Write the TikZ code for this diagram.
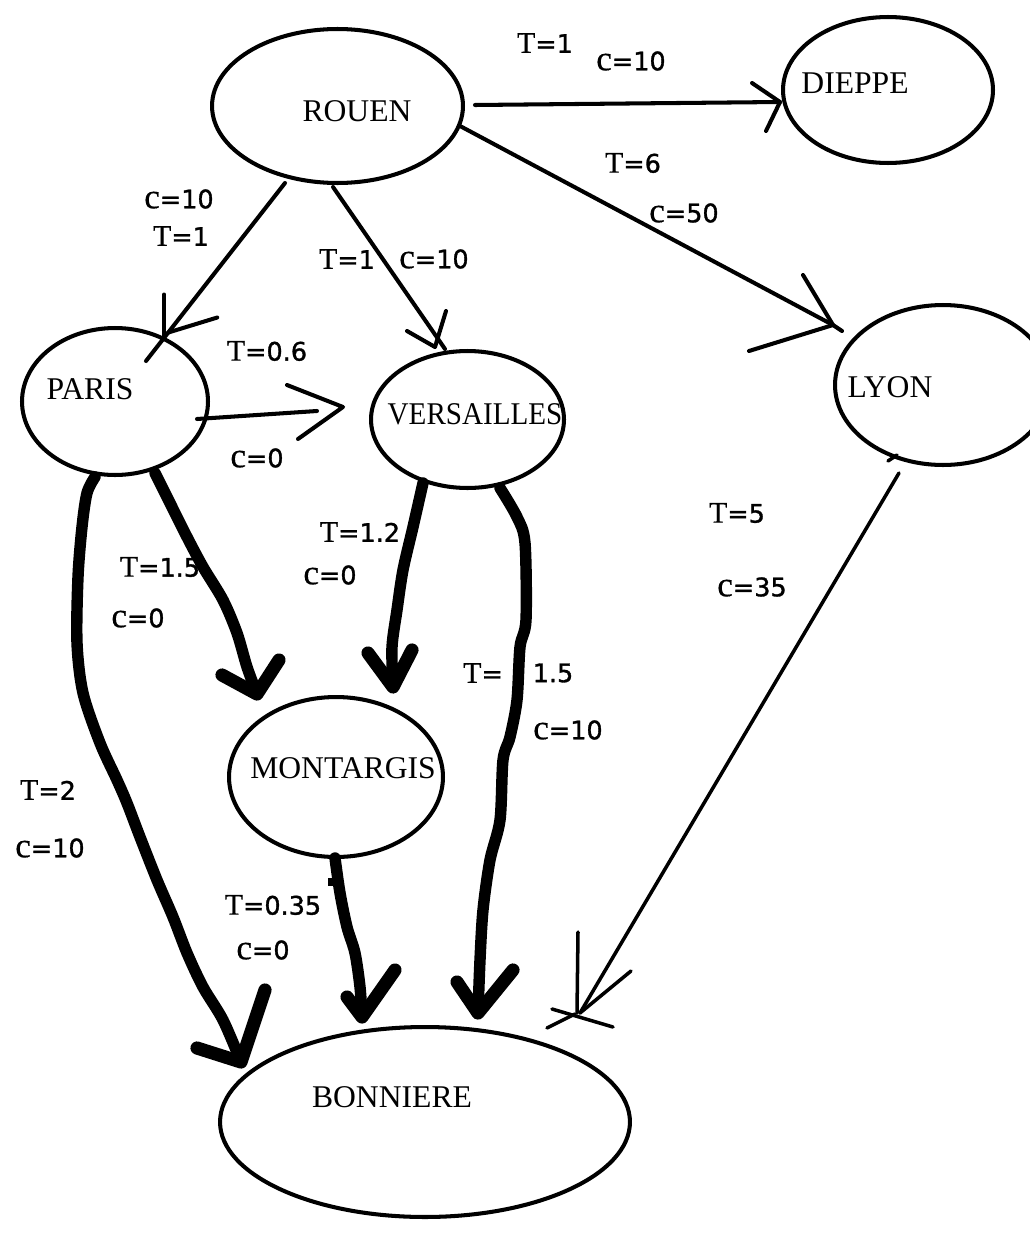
\documentclass[tikz,border=0pt]{standalone}
\usepackage{fontspec}
\setmainfont{Liberation Serif}
\setsansfont{DejaVu Sans}
\newfontface\lblsans{DejaVu Sans}[FakeBold=1.2]
\newfontface\lblser{Liberation Serif}[FakeBold=0.4]
\usetikzlibrary{shapes.geometric,calc}
% edge values: serif letter, heavier sans sign and number
\newcommand{\Tv}[1]{{\lblser\fontsize{17}{18}\selectfont T}{\lblsans=#1}}
\newcommand{\Cv}[1]{{\lblser\fontsize{20}{20}\selectfont c}{\lblsans=#1}}

\begin{document}
\begin{tikzpicture}[x=0.02cm,y=-0.02cm,
  city/.style={draw, ellipse, line width=2.3pt, inner sep=0pt},
  cityname/.style={font=\fontsize{18}{20}\selectfont, inner sep=0pt},
  lbl/.style={font=\fontsize{14.5}{16}\selectfont, inner sep=0pt},
  edge/.style={line width=2.3pt, line cap=round, line join=round},
  fine/.style={line width=2pt, line cap=round, line join=round},
  bold/.style={line width=6.5pt, line cap=round, line join=round},
  boldtip/.style={line width=7.5pt, line cap=round, line join=round},
]
\useasboundingbox (0,0) rectangle (1030,1254);
\clip (0,0) rectangle (1030,1254);
\fill[white] (0,0) rectangle (1030,1254);

% cities
\node[city, minimum width=5.02cm, minimum height=3.08cm] (rouen) at (337.5,106) {};
\node[city, minimum width=4.2cm,  minimum height=2.92cm] (dieppe) at (888,90) {};
\node[city, minimum width=3.72cm, minimum height=2.94cm] (paris) at (115,401.5) {};
\node[city, minimum width=3.86cm, minimum height=2.74cm] (versailles) at (467.5,419.5) {};
\node[city, minimum width=4.32cm, minimum height=3.2cm]  (lyon) at (943,385) {};
\node[city, minimum width=4.28cm, minimum height=3.2cm]  (montargis) at (336,777) {};
\node[city, minimum width=8.2cm,  minimum height=3.8cm]  (bonniere) at (425,1122) {};

\node[cityname] (rouenname) at (357,111.5) {ROUEN};
\node[cityname] (dieppename) at (855,83) {DIEPPE};
\node[cityname] (parisname) at (90,389) {PARIS};
\node[cityname] (versaillesname) at (475,414) {\scalebox{0.92}[1]{VERSAILLES}};
\node[cityname] (lyonname) at (890,387) {LYON};
\node[cityname] (montargisname) at (343,768) {MONTARGIS};
\node[cityname] (bonnierename) at (392,1097) {BONNIERE};

% ROUEN -> DIEPPE
\coordinate (rdS) at ($(rouen)+(137.5,-1)$);
\coordinate (rdE) at ($(dieppe)+(-108,12)$);
\draw[edge] (rdS) -- (rdE);
\draw[edge] (rdE) ++(-28,-19) -- (rdE) -- ++(-14,29);

% ROUEN -> LYON
\coordinate (rlS) at ($(rouen)+(122.5,20)$);
\coordinate (rlE) at ($(lyon)+(-110,-60)$);
\draw[edge] (rlS) -- (rlE) -- ++(9,6);
\draw[edge] (rlE) ++(-30,-50) -- (rlE) -- ++(-84,26);

% ROUEN -> PARIS
\coordinate (rpS) at ($(rouen)+(-52.5,77)$);
\coordinate (rpE) at ($(paris)+(31,-40.5)$);
\coordinate (rpT) at ($(rpS)!0.84!(rpE)$);
\draw[edge] (rpS) -- (rpE);
\draw[edge] (rpT) ++(-4,-38) -- ++(0,41);
\draw[edge] (rpT) ++(49,-15) -- (rpT);

% ROUEN -> VERSAILLES
\coordinate (rvS) at ($(rouen)+(-4.5,81)$);
\coordinate (rvE) at ($(versailles)+(-22.5,-70.5)$);
\coordinate (rvT) at ($(rvE)+(-10,-2)$);
\draw[edge] (rvS) -- (rvE);
\draw[edge] (rvT) ++(-28,-16) -- (rvT) -- ++(11,-36);

% PARIS -> VERSAILLES
\coordinate (pvS) at ($(paris)+(82,17.5)$);
\coordinate (pvT) at ($(versailles)+(-124.5,-12.5)$);
\draw[edge] (pvS) -- ($(pvT)+(-26,4)$);
\draw[edge] (pvT) ++(-56,-22) -- (pvT) -- ++(-45,32);

% LYON -> BONNIERE
\coordinate (lbS) at ($(lyon)+(-44,88)$);
\coordinate (lbE) at ($(bonniere)+(155,-109)$);
\draw[fine] (lbS) -- (lbE);
\draw[fine] (lbE) ++(-2,-81) -- ++(-1,81);
\draw[fine] (lbE) ++(51,-42) -- (lbE);
\draw[fine] (lbE) ++(-33,15) -- ++(28,-14);
\draw[fine] (lbE) ++(-28,-4) -- ++(61,18);
\draw[fine] (lyon) ++(-55,76) -- ++(9,-6);

% PARIS -> BONNIERE
\coordinate (pbS) at ($(paris)+(-20,75.5)$);
\coordinate (pbE) at ($(bonniere)+(-184,-60)$);
\draw[bold] plot[smooth, tension=0.5] coordinates {(pbS) (87,493) (82,527) (78,577) (77,643) (83,693) (100,743) (117,780) (127,803) (140,837) (157,880) (173,917) (187,953) (203,987) (223,1020) (pbE)};
\draw[boldtip] (pbE) ++(-44,-14) -- (pbE) -- ++(24,-72);

% PARIS -> MONTARGIS
\coordinate (pmS) at ($(paris)+(40,71.5)$);
\coordinate (pmE) at ($(montargis)+(-79,-83)$);
\draw[bold] plot[smooth, tension=0.5] coordinates {(pmS) (170,503) (187,537) (203,567) (223,600) (237,633) (247,667) (pmE)};
\draw[boldtip] (pmE) ++(-35,-19) -- (pmE) -- ++(22,-34);

% VERSAILLES -> MONTARGIS
\coordinate (vmS) at ($(versailles)+(-44.5,63.5)$);
\coordinate (vmE) at ($(montargis)+(57,-90)$);
\draw[bold] plot[smooth, tension=0.5] coordinates {(vmS) (413,527) (403,570) (397,610) (392,647) (vmE)};
\draw[boldtip] (vmE) ++(-25,-34) -- (vmE) -- ++(19,-37);

% VERSAILLES -> BONNIERE
\coordinate (vbS) at ($(versailles)+(32.5,68.5)$);
\coordinate (vbE) at ($(bonniere)+(53,-109)$);
\draw[bold] plot[smooth, tension=0.5] coordinates {(vbS) (517,517) (525,543) (526,620) (520,647) (517,700) (510,737) (503,760) (500,820) (490,860) (483,910) (480,960) (vbE)};
\draw[boldtip] (vbE) ++(-21,-31) -- (vbE) -- ++(35,-43);

% MONTARGIS -> BONNIERE
\coordinate (mbS) at ($(montargis)+(-1,81)$);
\coordinate (mbE) at ($(bonniere)+(-63,-105)$);
\draw[bold] plot[smooth, tension=0.5] coordinates {(mbS) (340,893) (347,927) (355,953) (360,987) (mbE)};
\draw[boldtip] (mbE) ++(-15,-20) -- (mbE) -- ++(33,-47);
\draw[line width=5pt] (mbS) ++(-7,24) -- ++(12,0);

% edge values
\node[lbl] (lrdT) at (545,43) {\Tv{1}};
\node[lbl] (lrdC) at (631,61) {\Cv{10}};
\node[lbl] (lrlT) at (633,163) {\Tv{6}};
\node[lbl] (lrlC) at (684,213) {\Cv{50}};
\node[lbl] (lrpC) at (179,199) {\Cv{10}};
\node[lbl] (lrpT) at (181,236) {\Tv{1}};
\node[lbl] (lrvT) at (347,259) {\Tv{1}};
\node[lbl] (lrvC) at (434,259) {\Cv{10}};
\node[lbl] (lpvT) at (267,351) {\Tv{0.6}};
\node[lbl] (lpvC) at (257,458) {\Cv{0}};
\node[lbl] (lpmT) at (160,567) {\Tv{1.5}};
\node[lbl] (lpmC) at (138,618) {\Cv{0}};
\node[lbl] (lvmT) at (360,532) {\Tv{1.2}};
\node[lbl] (lvmC) at (330,575) {\Cv{0}};
\node[lbl] (lvbT) at (483,673) {{\lblser\fontsize{17}{18}\selectfont T}{\lblsans=}};
\node[lbl] (lvbV) at (553,673) {\lblsans 1.5};
\node[lbl] (lvbC) at (568,730) {\Cv{10}};
\node[lbl] (llbT) at (737,513) {\Tv{5}};
\node[lbl] (llbC) at (752,587) {\Cv{35}};
\node[lbl] (lpbT) at (48,790) {\Tv{2}};
\node[lbl] (lpbC) at (50,848) {\Cv{10}};
\node[lbl] (lmbT) at (273,905) {\Tv{0.35}};
\node[lbl] (lmbC) at (263,950) {\Cv{0}};
\end{tikzpicture}
\end{document}
